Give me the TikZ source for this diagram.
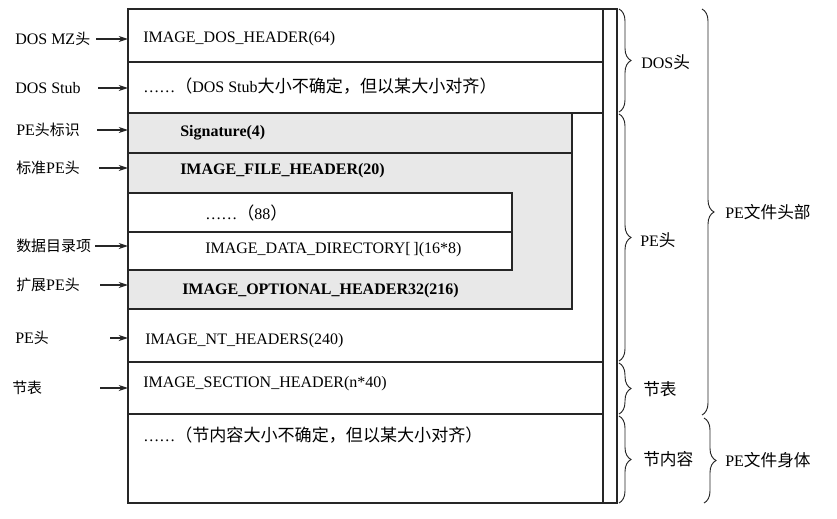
\documentclass[tikz,border=0pt]{standalone}
\usepackage{fontspec}
\setmainfont{Liberation Serif}
\newfontfamily\cjk{Noto Sans CJK SC}
\usetikzlibrary{decorations.pathreplacing,arrows.meta}
\newcommand{\zhs}[1]{{\cjk\fontsize{11.2}{13}\selectfont #1}}
\newcommand{\zhm}[1]{{\cjk\fontsize{12.5}{14}\selectfont #1}}
\newcommand{\zhl}[1]{{\cjk\fontsize{12.8}{14}\selectfont #1}}
\tikzset{
  box/.style={draw=black!85, line width=0.9pt},
  shadefill/.style={fill=gray!18},
  txt/.style={anchor=west, inner sep=0pt, font=\fontsize{12}{14}\selectfont},
  btxt/.style={anchor=west, inner sep=0pt, font=\fontsize{12}{14}\selectfont\bfseries},
  arr/.style={-{Stealth[length=7pt,width=4.5pt]}, line width=0.8pt, draw=black!85},
  brc/.style={decorate, decoration={brace, amplitude=9pt}, line width=0.7pt, draw=black!85},
}
\begin{document}
\begin{tikzpicture}[x=0.75pt,y=-0.75pt]
\useasboundingbox (0,0) rectangle (837,518);
% shaded PE header area
\fill[shadefill] (128,113) rectangle (572,309);
\fill[white] (128,193) rectangle (512,270);
% frame and rows
\draw[box] (128,9) rectangle (617,503);
\draw[box] (603,9) -- (603,503);
\draw[box] (128,62) -- (603,62);
\draw[box] (128,113) -- (603,113);
\draw[box] (572,113) -- (572,309) -- (128,309);
\draw[box] (128,153) -- (572,153);
\draw[box] (128,193) rectangle (512,270);
\draw[box] (128,232) -- (512,232);
\draw[box] (128,362) -- (603,362);
\draw[box] (128,414) -- (603,414);
% row texts
\node[txt]  (t1)  at (143,39)  {IMAGE\_DOS\_HEADER(64)};
\node[txt]  (t2)  at (143,86)  {……\zhl{（}DOS Stub\zhl{大小不确定，但以某大小对齐）}};
\node[btxt] (t3)  at (180,133) {Signature(4)};
\node[btxt] (t4)  at (180,171) {IMAGE\_FILE\_HEADER(20)};
\node[txt]  (t5)  at (205,213) {……\zhl{（}88\zhl{）}};
\node[txt]  (t6)  at (205,250) {IMAGE\_DATA\_DIRECTORY[\,](16*8)};
\node[btxt] (t7)  at (182,291) {IMAGE\_OPTIONAL\_HEADER32(216)};
\node[txt]  (t8)  at (145,341) {IMAGE\_NT\_HEADERS(240)};
\node[txt]  (t9)  at (143,384) {IMAGE\_SECTION\_HEADER(n*40)};
\node[txt]  (t10) at (143,435) {……\zhl{（节内容大小不确定，但以某大小对齐）}};
% left labels
\node[txt] (l1) at (15,39)  {DOS MZ\zhs{头}};
\node[txt] (l2) at (15,88)  {DOS Stub};
\node[txt] (l3) at (16,130) {PE\zhs{头标识}};
\node[txt] (l4) at (16,168) {\zhs{标准}PE\zhs{头}};
\node[txt] (l5) at (16,246) {\zhs{数据目录项}};
\node[txt] (l6) at (16,285) {\zhs{扩展}PE\zhs{头}};
\node[txt] (l7) at (15,338) {PE\zhs{头}};
\node[txt] (l8) at (12,388) {\zhs{节表}};
% arrow endpoints
\coordinate (s1) at (96,39);   \coordinate (e1) at (128,39);
\coordinate (s2) at (98,88);   \coordinate (e2) at (128,88);
\coordinate (s3) at (97,130);  \coordinate (e3) at (128,130);
\coordinate (s4) at (99,168);  \coordinate (e4) at (128,168);
\coordinate (s5) at (95,246);  \coordinate (e5) at (128,246);
\coordinate (s6) at (100,285); \coordinate (e6) at (128,285);
\coordinate (s7) at (110,338); \coordinate (e7) at (128,338);
\coordinate (s8) at (100,388); \coordinate (e8) at (128,388);
\foreach \i in {1,...,8} {\draw[arr] (s\i) -- (e\i);}
% small braces
\coordinate (b1a) at (619,9);   \coordinate (b1b) at (619,112);
\coordinate (b2a) at (619,114); \coordinate (b2b) at (619,361);
\coordinate (b3a) at (619,363); \coordinate (b3b) at (619,414);
\coordinate (b4a) at (619,416); \coordinate (b4b) at (619,503);
\draw[brc] (b1a) -- (b1b);
\draw[brc] (b2a) -- (b2b);
\draw[brc] (b3a) -- (b3b);
\draw[brc] (b4a) -- (b4b);
\node[txt] (r1) at (641,62)  {DOS\zhm{头}};
\node[txt] (r2) at (640,240) {PE\zhm{头}};
\node[txt] (r3) at (643,389) {\zhm{节表}};
\node[txt] (r4) at (643,459) {\zhm{节内容}};
% big braces
\coordinate (B1a) at (702,9);   \coordinate (B1b) at (702,415);
\coordinate (B2a) at (704,418); \coordinate (B2b) at (704,503);
\draw[brc] (B1a) -- (B1b);
\draw[brc] (B2a) -- (B2b);
\node[txt] (R1) at (725,212) {PE\zhm{文件头部}};
\node[txt] (R2) at (725,460) {PE\zhm{文件身体}};
\end{tikzpicture}
\end{document}
